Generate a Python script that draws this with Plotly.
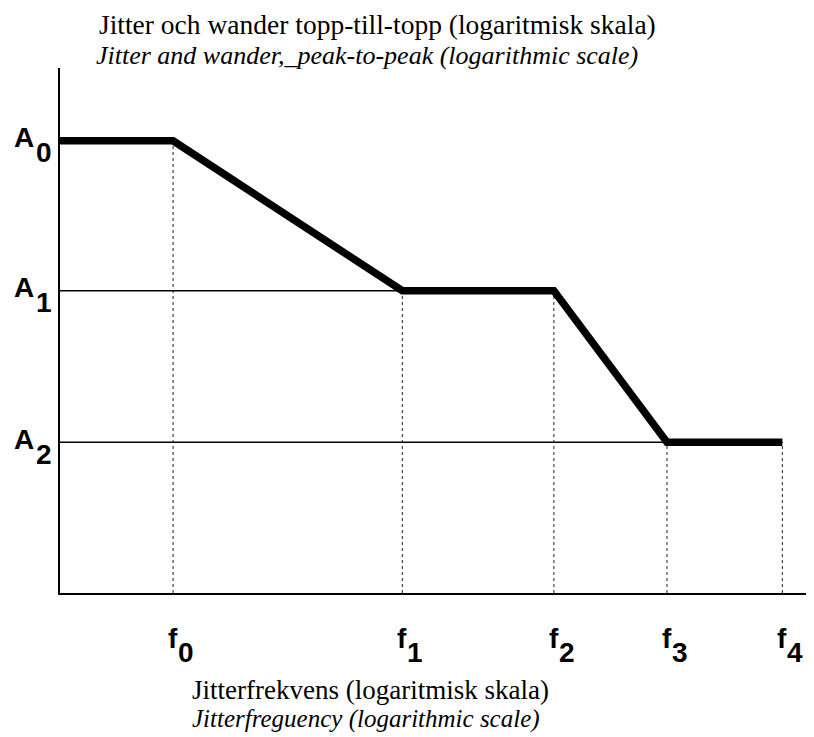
import plotly.graph_objects as go

# ---- data (positions on logarithmic scales) ----
freq_labels = ["f0", "f1", "f2", "f3", "f4"]
freq_pos = [1.5, 4.54, 6.55, 8.05, 9.58]          # log-frequency positions
amp_labels = ["A0", "A1", "A2"]
amp_vals = [6.03, 4.03, 2.01]                     # log-amplitude positions
# amplitude level of the mask at each corner frequency f0..f4
mask_amp_index = [0, 1, 1, 2, 2]

title_top = ["Jitter och wander topp-till-topp (logaritmisk skala)",
             "Jitter and wander,_peak-to-peak (logarithmic scale)"]
title_bottom = ["Jitterfrekvens (logaritmisk skala)",
                "Jitterfreguency (logarithmic scale)"]

# ---- derived ----
curve_x = [0.0] + freq_pos
curve_y = [amp_vals[0]] + [amp_vals[i] for i in mask_amp_index]

# the page body has an 8px default margin, so the figure is drawn 8px in
OFF = 8
W, H = 814 - OFF, 737 - OFF
L, R, T, B = 60 - OFF, 0, 68 - OFF, 144

fig = go.Figure()

# thin horizontal guide lines at A1 and A2 (from axis to last point on that level)
for k in (1, 2):
    xs = [freq_pos[i] for i in range(len(freq_pos)) if mask_amp_index[i] == k]
    fig.add_trace(go.Scatter(x=[0.0, max(xs)], y=[amp_vals[k], amp_vals[k]],
                             mode="lines", line=dict(color="black", width=1.6),
                             hoverinfo="skip", showlegend=False))

# dotted vertical lines from each corner frequency down to the axis
for i, f in enumerate(freq_pos):
    fig.add_trace(go.Scatter(x=[f, f], y=[0, amp_vals[mask_amp_index[i]]],
                             mode="lines",
                             line=dict(color="#222", width=1, dash="dot"),
                             hoverinfo="skip", showlegend=False))

# thick mask curve
fig.add_trace(go.Scatter(x=curve_x, y=curve_y, mode="lines",
                         line=dict(color="black", width=7.5),
                         hoverinfo="skip", showlegend=False))

ann = []
lab_font = dict(family="Liberation Sans, Arial", size=28, color="black")
# y labels A0..A2
for lab, v in zip(amp_labels, amp_vals):
    ann.append(dict(x=0, y=v, xref="x", yref="y", text="<b>" + lab[0] + "</b>",
                    showarrow=False, xanchor="right", yanchor="middle",
                    xshift=-25, yshift=3, borderpad=0, font=lab_font))
    ann.append(dict(x=0, y=v, xref="x", yref="y", text="<b>" + lab[1:] + "</b>",
                    showarrow=False, xanchor="left", yanchor="middle",
                    xshift=-25, yshift=-12, borderpad=0, font=lab_font))
# x labels f0..f4
for lab, f in zip(freq_labels, freq_pos):
    ann.append(dict(x=f, y=0, xref="x", yref="paper", text="<b>" + lab[0] + "</b>",
                    showarrow=False, xanchor="left", yanchor="middle",
                    xshift=-6, yshift=-45, borderpad=0, font=lab_font))
    ann.append(dict(x=f, y=0, xref="x", yref="paper", text="<b>" + lab[1:] + "</b>",
                    showarrow=False, xanchor="left", yanchor="middle",
                    xshift=4, yshift=-59, borderpad=0, font=lab_font))

serif = "Liberation Serif, Times New Roman"
ann.append(dict(x=0, y=1, xref="paper", yref="paper", text=title_top[0],
                showarrow=False, xanchor="left", yanchor="middle",
                xshift=98 - 60, yshift=44, borderpad=0,
                font=dict(family=serif, size=27.5, color="black")))
ann.append(dict(x=0, y=1, xref="paper", yref="paper", text="<i>" + title_top[1] + "</i>",
                showarrow=False, xanchor="left", yanchor="middle",
                xshift=95 - 60, yshift=13, borderpad=0,
                font=dict(family=serif, size=26, color="black")))
ann.append(dict(x=0, y=0, xref="paper", yref="paper", text=title_bottom[0],
                showarrow=False, xanchor="left", yanchor="middle",
                xshift=191 - 60, yshift=-96.5, borderpad=0,
                font=dict(family=serif, size=27, color="black")))
ann.append(dict(x=0, y=0, xref="paper", yref="paper", text="<i>" + title_bottom[1] + "</i>",
                showarrow=False, xanchor="left", yanchor="middle",
                xshift=191 - 60, yshift=-126, borderpad=0,
                font=dict(family=serif, size=25, color="black")))

fig.update_layout(
    width=W, height=H,
    margin=dict(l=L, r=R, t=T, b=B, pad=0),
    paper_bgcolor="white", plot_bgcolor="white",
    showlegend=False,
    annotations=ann,
    xaxis=dict(range=[0, 10], showgrid=False, zeroline=False, showticklabels=False,
               ticks="", showline=True, linecolor="black", linewidth=2, fixedrange=True),
    yaxis=dict(range=[0, 7], showgrid=False, zeroline=False, showticklabels=False,
               ticks="", showline=True, linecolor="black", linewidth=2, fixedrange=True),
)

fig.write_html("out.html")
